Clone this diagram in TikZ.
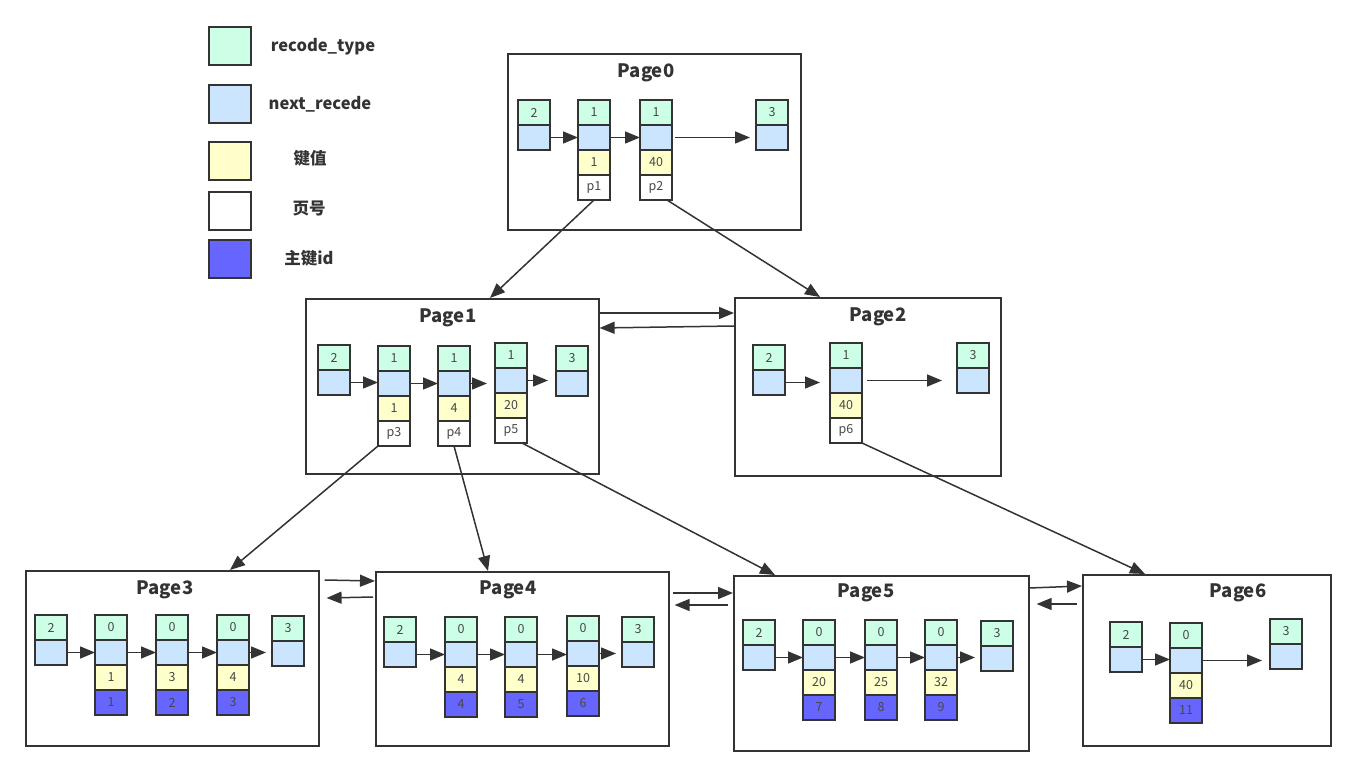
\documentclass[tikz,border=0pt]{standalone}
\usepackage{fontspec}
\setmainfont{Noto Sans CJK SC}
\usetikzlibrary{arrows.meta,positioning}
\definecolor{typegreen}{HTML}{CCFFE6}
\definecolor{nextblue}{HTML}{CCE5FF}
\definecolor{keyyellow}{HTML}{FFFFCC}
\definecolor{idpurple}{HTML}{6666FF}
\definecolor{edge}{HTML}{333333}
\tikzset{
cell/.style={
	draw=edge, line width=1.6pt, minimum width=32pt, minimum height=25pt,
	inner sep=0pt, outer sep=0pt, text=black!72, font=\fontsize{12.5}{14}\selectfont},
typecell/.style={cell, fill=typegreen},
nextcell/.style={cell, fill=nextblue},
keycell/.style={cell, fill=keyyellow},
pagecell/.style={cell, fill=white},
idcell/.style={cell, fill=idpurple},
pagebox/.style={draw=edge, line width=1.6pt, anchor=north west, inner sep=0pt},
title/.style={font=\bfseries\fontsize{18.5}{20}\selectfont, text=edge},
legendtext/.style={font=\bfseries\fontsize{16.5}{18}\selectfont, text=edge},
link/.style={draw=edge, line width=1.5pt, -{Triangle[length=15pt,width=12pt]}}
}
\newcommand{\tipcell}[4]{%
	\node[typecell, anchor=north] (#1t) at (#2,#3) {#4};
	\node[nextcell, below=0pt of #1t] (#1n) {};
}
\newcommand{\rec}[7]{%
	\tipcell{#1}{#2}{#3}{#4}
	\node[keycell, below=0pt of #1n] (#1k) {#5};
	\node[#7, below=0pt of #1k] (#1p) {#6};
}

\begin{document}
\begin{tikzpicture}[x=1pt, y=-1pt]
	\useasboundingbox (0,0) rectangle (1353,775);
	% legend
	\node[typecell, minimum width=42pt, minimum height=38pt, anchor=north west] (lg1) at (209,27) {};
	\node[nextcell, minimum width=42pt, minimum height=38pt, anchor=north west] (lg2) at (209,85) {};
	\node[keycell, minimum width=42pt, minimum height=38pt, anchor=north west] (lg3) at (209,142) {};
	\node[pagecell, minimum width=42pt, minimum height=38pt, anchor=north west] (lg4) at (209,192) {};
	\node[idcell, minimum width=42pt, minimum height=38pt, anchor=north west] (lg5) at (209,240) {};
	\node[legendtext] (lt1) at (323,47) {recode\_type};
	\node[legendtext] (lt2) at (320,104) {next\_recede};
	\node[legendtext] (lt3) at (310,158) {键值};
	\node[legendtext] (lt4) at (309,209) {页号};
	\node[legendtext] (lt5) at (309,258) {主键id};

	% pages
	\node[pagebox, minimum width=293pt, minimum height=176pt] (pg0) at (507,53) {};
	\node[pagebox, minimum width=293pt, minimum height=175pt] (pg1) at (305,298) {};
	\node[pagebox, minimum width=266pt, minimum height=178pt] (pg2) at (734,297) {};
	\node[pagebox, minimum width=293pt, minimum height=175pt] (pg3) at (25,570) {};
	\node[pagebox, minimum width=293pt, minimum height=174pt] (pg4) at (375,571) {};
	\node[pagebox, minimum width=295pt, minimum height=175pt] (pg5) at (733,575) {};
	\node[pagebox, minimum width=248pt, minimum height=171pt] (pg6) at (1082,574) {};
	\node[title] (t0) at (646,73) {Page0};
	\node[title] (t1) at (448,318) {Page1};
	\node[title] (t2) at (878,317) {Page2};
	\node[title] (t3) at (165,590) {Page3};
	\node[title] (t4) at (508,590) {Page4};
	\node[title] (t5) at (866,593) {Page5};
	\node[title] (t6) at (1238,593) {Page6};

	% Page0
	\tipcell{p0h}{534}{100}{2}
	\rec{p0a}{594}{100}{1}{1}{p1}{pagecell}
	\rec{p0b}{656}{100}{1}{40}{p2}{pagecell}
	\tipcell{p0z}{772}{100}{3}
	\draw[link] (p0hn.east) -- (p0hn.east -| p0an.west);
	\draw[link] (p0an.east) -- (p0an.east -| p0bn.west);
	\draw[link, shorten <=3pt, shorten >=6pt] (p0bn.east) -- (p0bn.east -| p0zn.west);

	% Page1
	\tipcell{p1h}{334}{345}{2}
	\rec{p1a}{394}{346}{1}{1}{p3}{pagecell}
	\rec{p1b}{454}{346}{1}{4}{p4}{pagecell}
	\rec{p1c}{511}{343}{1}{20}{p5}{pagecell}
	\tipcell{p1z}{572}{346}{3}
	\draw[link] (p1hn.east) -- (p1hn.east -| p1an.west);
	\draw[link] (p1an.east) -- (p1an.east -| p1bn.west);
	\draw[link, shorten >=8pt] (p1bn.east) -- (p1bn.east -| p1cn.west);
	\draw[link, shorten >=8pt] (p1cn.east) -- (p1cn.east -| p1zn.west);

	% Page2
	\tipcell{p2h}{769}{345}{2}
	\rec{p2a}{846}{343}{1}{40}{p6}{pagecell}
	\tipcell{p2z}{973}{343}{3}
	\draw[link, shorten >=10pt] (p2hn.east) -- (p2hn.east -| p2an.west);
	\draw[link, shorten <=5pt, shorten >=15pt] (p2an.east) -- (p2an.east -| p2zn.west);

	% Page3
	\tipcell{p3h}{51}{615}{2}
	\rec{p3a}{111}{615}{0}{1}{1}{idcell}
	\rec{p3b}{172}{615}{0}{3}{2}{idcell}
	\rec{p3c}{233}{615}{0}{4}{3}{idcell}
	\tipcell{p3z}{288}{616}{3}
	\draw[link] (p3hn.east) -- (p3hn.east -| p3an.west);
	\draw[link] (p3an.east) -- (p3an.east -| p3bn.west);
	\draw[link] (p3bn.east) -- (p3bn.east -| p3cn.west);
	\draw[link, shorten >=6pt] (p3cn.east) -- (p3cn.east -| p3zn.west);

	% Page4
	\tipcell{p4h}{400}{617}{2}
	\rec{p4a}{461}{617}{0}{4}{4}{idcell}
	\rec{p4b}{521}{617}{0}{4}{5}{idcell}
	\rec{p4c}{583}{616}{0}{10}{6}{idcell}
	\tipcell{p4z}{638}{617}{3}
	\draw[link] (p4hn.east) -- (p4hn.east -| p4an.west);
	\draw[link] (p4an.east) -- (p4an.east -| p4bn.west);
	\draw[link] (p4bn.east) -- (p4bn.east -| p4cn.west);
	\draw[link, shorten >=6pt] (p4cn.east) -- (p4cn.east -| p4zn.west);

	% Page5
	\tipcell{p5h}{759}{620}{2}
	\rec{p5a}{819}{620}{0}{20}{7}{idcell}
	\rec{p5b}{881}{620}{0}{25}{8}{idcell}
	\rec{p5c}{941}{620}{0}{32}{9}{idcell}
	\tipcell{p5z}{997}{621}{3}
	\draw[link] (p5hn.east) -- (p5hn.east -| p5an.west);
	\draw[link] (p5an.east) -- (p5an.east -| p5bn.west);
	\draw[link] (p5bn.east) -- (p5bn.east -| p5cn.west);
	\draw[link, shorten >=6pt] (p5cn.east) -- (p5cn.east -| p5zn.west);

	% Page6
	\tipcell{p6h}{1126}{622}{2}
	\rec{p6a}{1186}{623}{0}{40}{11}{idcell}
	\tipcell{p6z}{1286}{619}{3}
	\draw[link] (p6hn.east) -- (p6hn.east -| p6an.west);
	\draw[link, shorten >=8pt] (p6an.east) -- (p6an.east -| p6zn.west);

	% children
	\draw[link] (p0ap.south) -- ([xshift=185pt]pg1.north west);
	\draw[link] ([xshift=-5pt]p0bp.south east) -- ([xshift=86pt]pg2.north west);
	\draw[link] (p1ap.south west) -- ([xshift=205pt]pg3.north west);
	\draw[link] (p1bp.south) -- ([xshift=113pt]pg4.north west);
	\draw[link] ([xshift=-5pt]p1cp.south east) -- ([xshift=42pt]pg5.north west);
	\draw[link] (p2ap.south east) -- ([xshift=63pt]pg6.north west);

	% siblings
	\draw[link] ([yshift=-15pt]pg1.north east) -- ([yshift=-16pt]pg2.north west);
	\draw[link] ([yshift=-29pt]pg2.north west) -- ([yshift=-30pt]pg1.north east);
	\draw[link] ([xshift=5pt, yshift=-10pt]pg3.north east) -- ([yshift=-10pt]pg4.north west);
	\draw[link] ([xshift=-2pt, yshift=-26pt]pg4.north west) -- ([xshift=7pt, yshift=-28pt]pg3.north east);
	\draw[link] ([xshift=3pt, yshift=-22pt]pg4.north east) -- ([yshift=-18pt]pg5.north west);
	\draw[link] ([xshift=-5pt, yshift=-30pt]pg5.north west) -- ([xshift=5pt, yshift=-34pt]pg4.north east);
	\draw[link] ([yshift=-13pt]pg5.north east) -- ([yshift=-12pt]pg6.north west);
	\draw[link] ([xshift=-5pt, yshift=-30pt]pg6.north west) -- ([xshift=7pt, yshift=-29pt]pg5.north east);
\end{tikzpicture}
\end{document}
